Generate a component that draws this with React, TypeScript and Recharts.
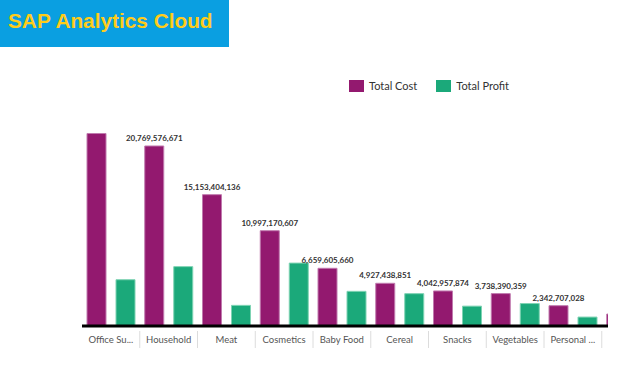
import React from "react";
import { BarChart, Bar, XAxis, YAxis, Legend, LabelList } from "recharts";

// Item types, sorted by total cost (the last one is cut off by the chart edge)
const categories = [
  "Office Supplies",
  "Household",
  "Meat",
  "Cosmetics",
  "Baby Food",
  "Cereal",
  "Snacks",
  "Vegetables",
  "Personal Care",
  "Clothes",
];
const totalCost = [
  22210000000, 20769576671, 15153404136, 10997170607, 6659605660,
  4927438851, 4042957874, 3738390359, 2342707028, 1380000000,
];
const totalProfit = [
  5340000000, 6850000000, 2380000000, 7260000000, 4000000000,
  3730000000, 2290000000, 2590000000, 1030000000, 2830000000,
];
// SAC drops the labels that do not fit in the plot
const showCostLabel = [false, true, true, true, true, true, true, true, true, false];

const COST_COLOR = "#93196f";
const PROFIT_COLOR = "#1ba97a";
const BAND = 57.75; // width of one category slot
const VISIBLE_W = 608; // the plot is cut off here

const data = categories.map((name, i) => ({
  name,
  cost: totalCost[i],
  profit: totalProfit[i],
}));

function shortName(s: string): string {
  return s.length > 10 ? s.slice(0, 9) + "..." : s;
}

function CategoryTick(props: any) {
  const { x, y, payload } = props;
  // label of the cut-off slot is not visible
  const showText = x + BAND / 2 <= VISIBLE_W;
  return (
    <g>
      <line x1={x + BAND / 2} x2={x + BAND / 2} y1={y + 5} y2={y + 22} stroke="#dcdcdc" />
      {showText && (
        <text x={x} y={y + 17} textAnchor="middle" fill="#555" fontSize={9.5} fontFamily="Lato">
          {shortName(String(payload.value))}
        </text>
      )}
    </g>
  );
}

function CostLabel(props: any) {
  const { x, y, width, value, index } = props;
  if (!showCostLabel[index]) return null;
  return (
    <text
      x={Number(x) + Number(width) / 2}
      y={Number(y) - 5}
      textAnchor="middle"
      fill="#333"
      fontSize={8}
      fontWeight={700}
      fontFamily="Lato"
    >
      {Number(value).toLocaleString("en-US")}
    </text>
  );
}

function LegendContent(props: any) {
  const { payload } = props;
  return (
    <div style={{ display: "flex", alignItems: "center", fontFamily: "Lato", fontSize: 11, color: "#333" }}>
      {(payload || []).map((p: any, i: number) => (
        <div key={i} style={{ display: "flex", alignItems: "center", marginRight: 19 }}>
          <span
            style={{ display: "inline-block", width: 15, height: 12, background: p.color, marginRight: 5 }}
          />
          {p.value}
        </div>
      ))}
    </div>
  );
}

export default function App() {
  return (
    <div style={{ position: "absolute", left: 0, top: 0, width: 629, height: 372, background: "#fff" }}>
      <div style={{ position: "absolute", left: 0, top: 0, width: 229, height: 47, background: "#0a9fe1" }}>
        <span
          style={{
            position: "absolute",
            left: 8,
            top: 11,
            lineHeight: "20px",
            fontFamily: '"Liberation Sans", Arial, sans-serif',
            fontWeight: 700,
            fontSize: 20.8,
            color: "#ffcc1a",
            whiteSpace: "nowrap",
          }}
        >
          SAP Analytics Cloud
        </span>
      </div>
      <div style={{ position: "absolute", left: 0, top: 0, width: VISIBLE_W, height: 372, overflow: "hidden" }}>
        <BarChart
          width={680}
          height={372}
          data={data}
          margin={{ top: 118, right: 20.5, left: 82, bottom: 16 }}
          barGap={10}
          barSize={19}
        >
          <XAxis
            dataKey="name"
            interval={0}
            tick={<CategoryTick />}
            tickLine={false}
            tickSize={0}
            tickMargin={0}
            height={30}
            axisLine={{ stroke: "#000", strokeWidth: 3 }}
          />
          <YAxis hide domain={[0, 24000000000]} />
          <Legend
            layout="horizontal"
            verticalAlign="middle"
            align="center"
            content={<LegendContent />}
            wrapperStyle={{ top: 79, left: 349, width: "auto" }}
          />
          <Bar dataKey="cost" name="Total Cost" fill={COST_COLOR} stroke="#c07aae" strokeWidth={1} isAnimationActive={false}>
            <LabelList dataKey="cost" content={<CostLabel />} />
          </Bar>
          <Bar dataKey="profit" name="Total Profit" fill={PROFIT_COLOR} stroke="#7ed3b3" strokeWidth={1} isAnimationActive={false} />
        </BarChart>
      </div>
    </div>
  );
}
